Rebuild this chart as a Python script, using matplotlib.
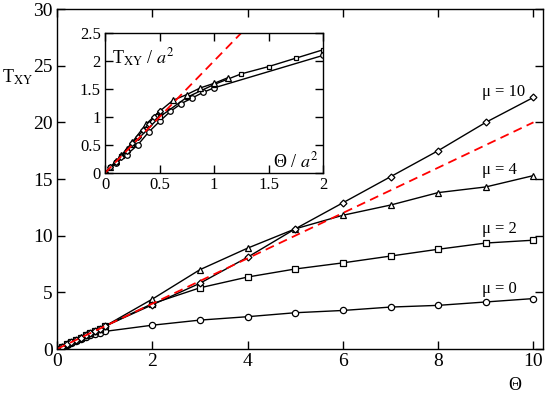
import numpy as np
import matplotlib
matplotlib.use("Agg")
import matplotlib.pyplot as plt

plt.rcParams.update({
    'font.family': ['Liberation Serif', 'DejaVu Serif'],
    'mathtext.fontset': 'stix',
    'xtick.direction': 'in',
    'ytick.direction': 'in',
    'xtick.top': True,
    'ytick.right': True,
    'axes.linewidth': 1.0,
})

# main panel data: T_XY vs Theta for several mu
theta = [0, 0.1, 0.2, 0.3, 0.4, 0.5, 0.6, 0.7, 0.8, 0.9, 1.0, 2, 3, 4, 5, 6, 7, 8, 9, 10]
t_mu0 = [0, 0.17, 0.33, 0.5, 0.73, 0.92, 1.1, 1.24, 1.35, 1.45, 1.55, 2.1, 2.55, 2.85, 3.2, 3.4, 3.7, 3.85, 4.15, 4.45]
t_mu2 = [0, 0.2, 0.4, 0.6, 0.8, 1.0, 1.2, 1.4, 1.6, 1.8, 2.0, 4.0, 5.4, 6.35, 7.06, 7.6, 8.2, 8.8, 9.35, 9.6]
t_mu4 = [0, 0.21, 0.42, 0.62, 0.83, 1.03, 1.22, 1.42, 1.6, 1.8, 2.0, 4.4, 7.0, 8.9, 10.6, 11.8, 12.7, 13.8, 14.3, 15.3]
t_mu10 = [0, 0.2, 0.4, 0.6, 0.8, 1.0, 1.2, 1.4, 1.6, 1.8, 2.0, 3.9, 5.8, 8.1, 10.6, 12.9, 15.2, 17.5, 20.0, 22.2]
lin_x = [0, 10]
lin_y = [0, 20]

# inset data: T_XY/a^2 vs Theta/a^2
in_c_x = [0, 0.1, 0.2, 0.3, 0.4, 0.5, 0.6, 0.7, 0.8, 0.9, 1.0, 2.0]
in_c_y = [0, 0.17, 0.33, 0.5, 0.73, 0.92, 1.1, 1.24, 1.34, 1.44, 1.52, 2.1]
in_s_x = [0, 0.05, 0.1, 0.15, 0.2, 0.25, 0.5, 0.75, 1.0, 1.25, 1.5, 1.75, 2.0]
in_s_y = [0, 0.1, 0.2, 0.3, 0.4, 0.5, 1.0, 1.35, 1.58, 1.77, 1.9, 2.05, 2.2]
in_t_x = [0, 0.05, 0.1, 0.15, 0.2, 0.25, 0.375, 0.5, 0.625, 0.75, 0.875, 1.0, 1.125]
in_t_y = [0, 0.11, 0.21, 0.32, 0.43, 0.55, 0.87, 1.1, 1.3, 1.4, 1.52, 1.6, 1.7]
in_d_x = [0, 0.05, 0.1, 0.15, 0.2, 0.25, 0.3, 0.35, 0.4, 0.45, 0.5]
in_d_y = [0, 0.1, 0.2, 0.29, 0.4, 0.53, 0.65, 0.76, 0.88, 1.0, 1.11]
in_lin_x = [0, 1.25]
in_lin_y = [0, 2.5]

W, H = 545, 397
fig = plt.figure(figsize=(W / 100, H / 100), dpi=100)

ax = fig.add_axes([57 / W, 1 - 349 / H, (543 - 57) / W, (349 - 9) / H])
mk = dict(color='black', lw=1.0, ms=4.5, mfc='white', mew=0.9)
ax.plot(theta, t_mu0, marker='o', **mk)
ax.plot(theta, t_mu2, marker='s', **dict(mk, ms=4))
ax.plot(theta, t_mu4, marker='^', **mk)
ax.plot(theta, t_mu10, marker='D', **dict(mk, ms=3.5))
ax.plot(lin_x, lin_y, color='red', lw=1.3, ls=(0, (5, 3)))
ax.set_xlim(0, 10.2)
ax.set_ylim(0, 30)
ax.set_xticks([0, 2, 4, 6, 8, 10])
ax.set_yticks([0, 5, 10, 15, 20, 25, 30])
ax.tick_params(labelsize=14, length=6, width=1.0, pad=3)

lab = dict(fontsize=12, ha='left', va='baseline')
ax.text(8.92, 22.3, 'μ = 10', **lab)
ax.text(8.92, 15.45, 'μ = 4', **lab)
ax.text(8.92, 10.2, 'μ = 2', **lab)
ax.text(8.92, 4.95, 'μ = 0', **lab)

fig.text(2 / W, 1 - 83 / H, r'T$_{\mathrm{XY}}$', fontsize=13, ha='left', va='baseline')
fig.text(515 / W, 1 - 385 / H, 'Θ', fontsize=13, ha='center', va='center')

# inset
ins = fig.add_axes([105 / W, 1 - 173 / H, (323 - 105) / W, (173 - 33) / H])
imk = dict(color='black', lw=1.0, ms=4, mfc='white', mew=0.9)
ins.plot(in_c_x, in_c_y, marker='o', **imk)
ins.plot(in_s_x, in_s_y, marker='s', **dict(imk, ms=3.5))
ins.plot(in_t_x, in_t_y, marker='^', **imk)
ins.plot(in_d_x, in_d_y, marker='D', **dict(imk, ms=3))
ins.plot(in_lin_x, in_lin_y, color='red', lw=1.3, ls=(0, (5, 3)))
ins.set_xlim(0, 2)
ins.set_ylim(0, 2.5)
ins.set_xticks([0, 0.5, 1, 1.5, 2])
ins.set_xticklabels(['0', '0.5', '1', '1.5', '2'])
ins.set_yticks([0, 0.5, 1, 1.5, 2, 2.5])
ins.set_yticklabels(['0', '0.5', '1', '1.5', '2', '2.5'])
ins.tick_params(labelsize=12, length=6, width=1.0, pad=3)
ins.text(0.03, 0.78, r'T$_{\mathrm{XY}}$ / $a^2$', transform=ins.transAxes,
         fontsize=13, ha='left', va='baseline')
ins.text(0.77, 0.04, r'Θ / $a^2$', transform=ins.transAxes,
         fontsize=13, ha='left', va='baseline')

fig.savefig('out.png', dpi=100)
